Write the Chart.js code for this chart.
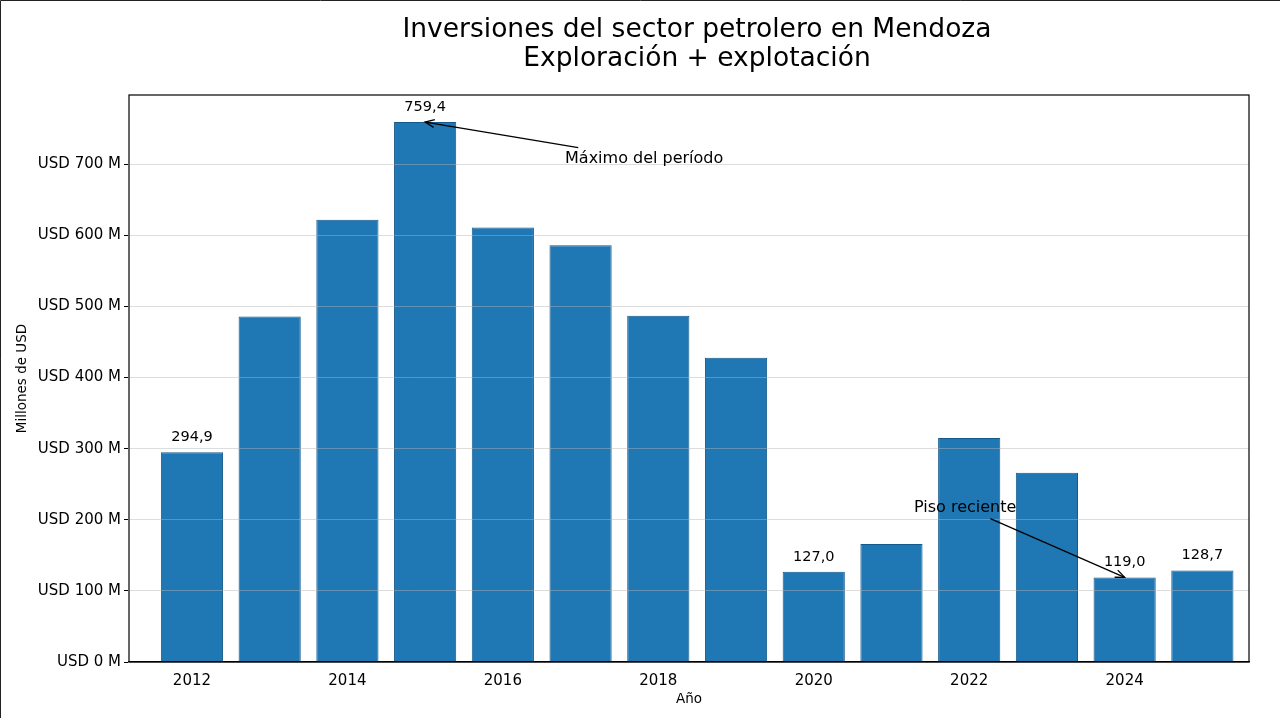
<!DOCTYPE html>
<html>
<head>
<meta charset="utf-8">
<script src="https://cdn.jsdelivr.net/npm/chart.js@4"></script>
<style>
    html, body { margin: 0; padding: 0; background: #fff; }
    #wrap { width: 1280px; height: 718px; }
</style>
</head>
<body>
<div id="wrap"><canvas id="invChart"></canvas></div>
<script>
const years = [2012, 2013, 2014, 2015, 2016, 2017, 2018, 2019, 2020, 2021, 2022, 2023, 2024, 2025];
const investments = [294.9, 486, 622, 759.4, 611, 586, 487, 428, 127.0, 166, 315, 266, 119.0, 128.7];
const labeledYears = [2012, 2015, 2020, 2024, 2025];
const yTicks = [0, 100, 200, 300, 400, 500, 600, 700];
const xTicks = [2012, 2014, 2016, 2018, 2020, 2022, 2024];
const titleLines = ['Inversiones del sector petrolero en Mendoza', 'Exploración + explotación'];
const notes = [
    { text: 'Máximo del período', x: 2016.8, y: 708, toX: 2015, toY: 759.4 },
    { text: 'Piso reciente', x: 2021.29, y: 217, toX: 2024, toY: 119.0 }
];

const FONT = "'DejaVu Sans', sans-serif";

const decorPlugin = {
    id: 'decor',
    afterDraw(chart) {
        const ctx = chart.ctx;
        const area = chart.chartArea;
        const xs = chart.scales.x;
        const ys = chart.scales.y;
        ctx.save();

        // figure edge lines (left + top)
        ctx.strokeStyle = '#222';
        ctx.lineWidth = 1;
        ctx.beginPath();
        ctx.moveTo(0.5, 718);
        ctx.lineTo(0.5, 0.5);
        ctx.lineTo(1280, 0.5);
        ctx.stroke();

        // plot frame
        ctx.strokeStyle = '#000';
        ctx.lineWidth = 1.2;
        ctx.strokeRect(area.left, area.top, area.right - area.left, area.bottom - area.top);

        // title
        ctx.fillStyle = '#000';
        ctx.font = '26.5px ' + FONT;
        ctx.textAlign = 'center';
        ctx.textBaseline = 'middle';
        ctx.fillText(titleLines[0], 697, 30);
        ctx.fillText(titleLines[1], 697, 59);

        // value labels
        ctx.font = '14.5px ' + FONT;
        ctx.textBaseline = 'alphabetic';
        years.forEach((yr, i) => {
            if (!labeledYears.includes(yr)) return;
            const v = investments[i];
            ctx.fillText(v.toFixed(1).replace('.', ','), xs.getPixelForValue(yr), ys.getPixelForValue(v) - 11);
        });

        // annotations with arrows
        ctx.font = '16px ' + FONT;
        ctx.textAlign = 'left';
        ctx.textBaseline = 'middle';
        notes.forEach(n => {
            const tx = xs.getPixelForValue(n.x);
            const ty = ys.getPixelForValue(n.y);
            const w = ctx.measureText(n.text).width;
            ctx.fillText(n.text, tx, ty);
            const cx = tx + w / 2, cy = ty;
            const hw = w / 2 + 2, hh = 11;
            const ex = xs.getPixelForValue(n.toX);
            const ey = ys.getPixelForValue(n.toY);
            const dx = ex - cx, dy = ey - cy;
            const t = Math.min(Math.abs(hw / dx), Math.abs(hh / dy));
            const sx = cx + dx * t, sy = cy + dy * t;
            ctx.strokeStyle = '#000';
            ctx.lineWidth = 1.3;
            ctx.beginPath();
            ctx.moveTo(sx, sy);
            ctx.lineTo(ex, ey);
            ctx.stroke();
            const ang = Math.atan2(ey - sy, ex - sx);
            const L = 10, spread = 0.4;
            ctx.beginPath();
            ctx.moveTo(ex - L * Math.cos(ang - spread), ey - L * Math.sin(ang - spread));
            ctx.lineTo(ex, ey);
            ctx.lineTo(ex - L * Math.cos(ang + spread), ey - L * Math.sin(ang + spread));
            ctx.stroke();
        });

        ctx.restore();
    }
};

new Chart(document.getElementById('invChart'), {
    type: 'bar',
    data: {
        datasets: [{
            label: 'Inversión',
            data: years.map((yr, i) => ({ x: yr, y: investments[i] })),
            backgroundColor: '#1f77b4',
            borderColor: '#145a8c',
            borderWidth: 1,
            barPercentage: 0.8,
            categoryPercentage: 1.0
        }]
    },
    options: {
        responsive: true,
        maintainAspectRatio: false,
        animation: false,
        devicePixelRatio: 1,
        layout: { padding: { left: 0, right: 31, top: 95, bottom: 0 } },
        plugins: {
            legend: { display: false },
            tooltip: { enabled: false },
            title: { display: false }
        },
        scales: {
            x: {
                type: 'linear',
                offset: false,
                min: 2011.19,
                max: 2025.6,
                afterBuildTicks: s => { s.ticks = xTicks.map(v => ({ value: v })); },
                afterFit: s => { s.height = 56; },
                grid: { display: false, offset: false, drawTicks: true, tickLength: 5, tickColor: '#000' },
                border: { display: true, color: '#000', width: 1.2 },
                ticks: {
                    color: '#000',
                    font: { family: FONT, size: 15 },
                    padding: 5,
                    maxRotation: 0,
                    callback: v => String(v)
                },
                title: {
                    display: true,
                    text: 'Año',
                    color: '#000',
                    font: { family: FONT, size: 13.5 },
                    padding: { top: 2, bottom: 10 }
                }
            },
            y: {
                min: 0,
                max: 797.4,
                afterBuildTicks: s => { s.ticks = yTicks.map(v => ({ value: v })); },
                afterFit: s => { s.width = 129; },
                grid: {
                    z: 1,
                    color: 'rgba(180,180,180,0.45)',
                    lineWidth: 1,
                    drawTicks: true,
                    tickLength: 5,
                    tickColor: '#000'
                },
                border: { display: true, color: '#000', width: 1.2 },
                ticks: {
                    color: '#000',
                    font: { family: FONT, size: 15 },
                    padding: 3,
                    callback: v => 'USD ' + v + ' M'
                },
                title: {
                    display: true,
                    text: 'Millones de USD',
                    color: '#000',
                    font: { family: FONT, size: 13.5 },
                    padding: { top: 14, bottom: 0 }
                }
            }
        }
    },
    plugins: [decorPlugin]
});
</script>
</body>
</html>
